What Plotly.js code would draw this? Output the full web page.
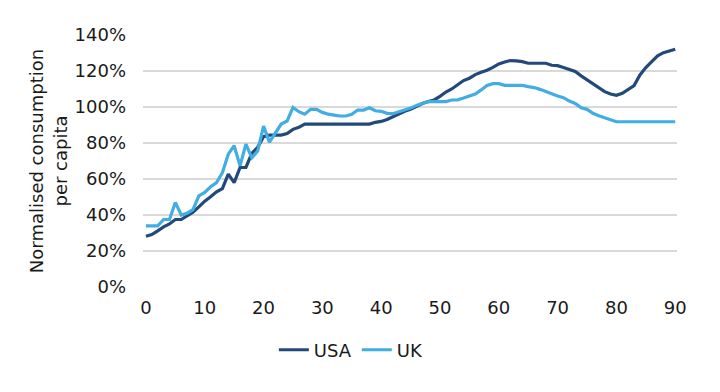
<!DOCTYPE html>
<html>
<head>
<meta charset="utf-8">
<script src="https://cdn.plot.ly/plotly-3.0.1.min.js"></script>
<style>html,body{margin:0;padding:0;background:#fff;}#chart{width:720px;height:392px;}</style>
</head>
<body>
<div id="chart"></div>
<script>
const seriesNames = ["USA", "UK"];
const xValues = Array.from({length: 91}, (_, i) => i);
const usaValues = [
  28.2, 29.1, 31.2, 33.4, 35.0, 37.5, 37.5, 39.3, 41.6, 44.5,
  47.7, 50.1, 52.9, 54.7, 62.7, 58.0, 66.4, 66.4, 74.2, 77.6,
  83.5, 84.4, 84.4, 84.4, 85.3, 87.6, 88.7, 90.5, 90.5, 90.5,
  90.5, 90.5, 90.5, 90.5, 90.5, 90.5, 90.5, 90.5, 90.5, 91.5,
  92.0, 93.1, 94.6, 96.3, 97.6, 98.7, 100.4, 101.9, 103.0, 103.9,
  105.9, 108.3, 110.0, 112.2, 114.7, 116.0, 118.0, 119.3, 120.4, 122.0,
  123.9, 125.0, 125.8, 125.6, 125.2, 124.3, 124.3, 124.3, 124.3, 123.2,
  123.0, 122.0, 121.0, 119.7, 117.3, 115.0, 112.6, 110.4, 108.5, 107.2,
  106.5, 107.6, 109.8, 111.9, 117.8, 121.9, 125.2, 128.4, 130.2, 131.2,
  132.1
];
const ukValues = [
  34.0, 34.0, 34.0, 37.5, 37.5, 47.0, 40.0, 41.0, 43.0, 50.6,
  52.5, 55.7, 58.0, 63.5, 73.8, 78.5, 67.3, 79.4, 71.8, 75.5,
  89.4, 80.5, 85.3, 90.5, 92.2, 99.8, 97.4, 96.0, 98.7, 98.7,
  97.0, 96.0, 95.5, 95.0, 95.0, 96.0, 98.3, 98.3, 99.6, 97.9,
  97.6, 96.5, 96.3, 97.2, 98.1, 99.4, 100.9, 102.0, 103.0, 103.0,
  103.0, 103.0, 103.9, 104.0, 105.0, 106.0, 107.2, 109.5, 112.0, 113.0,
  113.0, 112.0, 112.0, 112.0, 112.0, 111.3, 110.8, 109.8, 108.5, 107.2,
  106.1, 105.2, 103.3, 102.0, 99.6, 98.7, 96.5, 95.2, 94.1, 92.8,
  91.8, 91.8, 91.8, 91.8, 91.8, 91.8, 91.8, 91.8, 91.8, 91.8,
  91.8
];
const yTickVals = [0, 20, 40, 60, 80, 100, 120, 140];
const yTickText = ["0%", "20%", "40%", "60%", "80%", "100%", "120%", "140%"];
const xTickVals = [0, 10, 20, 30, 40, 50, 60, 70, 80, 90];

const font = "DejaVu Sans, Verdana, sans-serif";
const fs = 18;
const traces = [
  {x: xValues, y: usaValues, name: seriesNames[0], type: "scatter", mode: "lines",
   line: {color: "#22497a", width: 3.2}},
  {x: xValues, y: ukValues, name: seriesNames[1], type: "scatter", mode: "lines",
   line: {color: "#41ade2", width: 3.2}}
];
const layout = {
  width: 720, height: 392,
  margin: {l: 143, r: 43, t: 35, b: 105},
  paper_bgcolor: "#fff", plot_bgcolor: "#fff",
  font: {family: font, size: fs, color: "#1a1a1a"},
  showlegend: true,
  legend: {orientation: "h", xref: "container", yref: "container", x: 0.488, xanchor: "center",
           y: 0.107, yanchor: "middle", font: {family: font, size: fs, color: "#1a1a1a"},
           itemwidth: 30, traceorder: "normal"},
  xaxis: {range: [-0.5, 90.3], tickvals: xTickVals, ticks: "", showgrid: false, zeroline: false,
          showline: false, tickfont: {family: font, size: fs}, ticklabelstandoff: 8, fixedrange: true},
  yaxis: {range: [0, 140], tickvals: yTickVals, ticktext: yTickText, ticks: "",
          showgrid: true, gridcolor: "#d9d9d9", gridwidth: 1.5, zeroline: false, showline: false,
          tickfont: {family: font, size: fs}, ticklabelstandoff: 16,
          title: {text: "Normalised consumption<br>per capita", font: {family: font, size: fs}, standoff: 2},
          fixedrange: true}
};
Plotly.newPlot("chart", traces, layout, {displayModeBar: false, staticPlot: true});
</script>
</body>
</html>
